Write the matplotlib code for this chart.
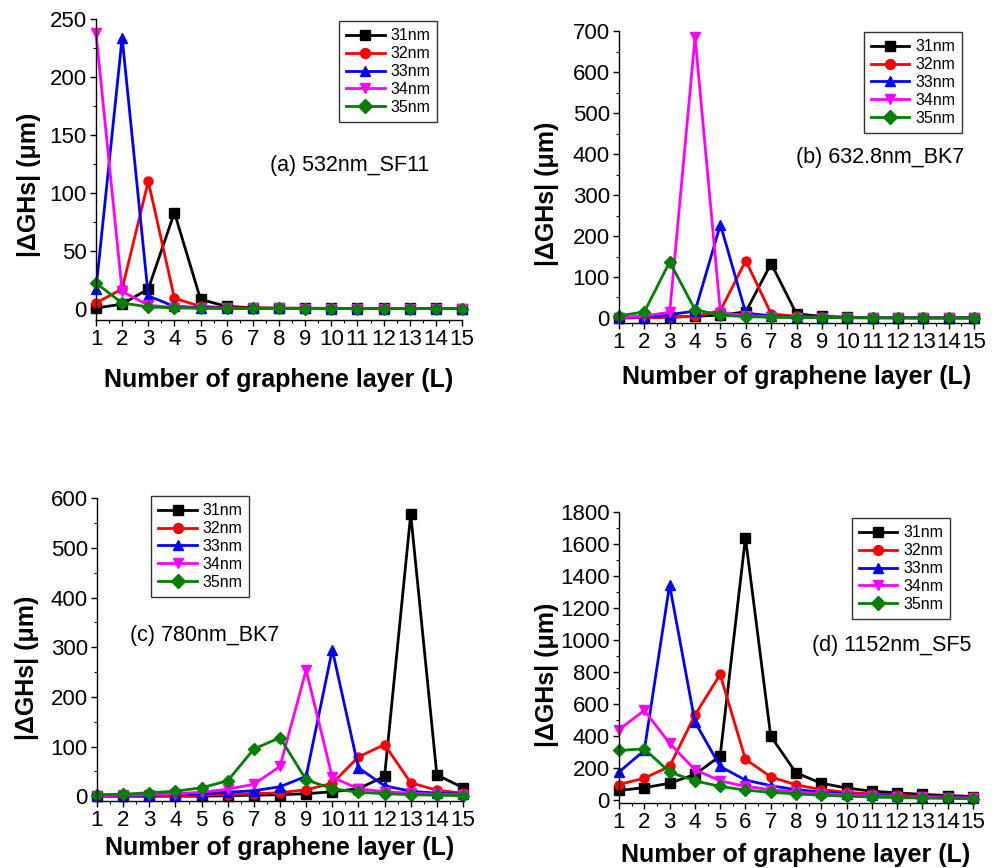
import matplotlib
matplotlib.use("Agg")
import matplotlib.pyplot as plt
from matplotlib.ticker import MultipleLocator, AutoMinorLocator

plt.rcParams['font.family'] = ['Liberation Sans', 'DejaVu Sans']

layers = list(range(1, 15 + 1))
series_labels = ["31nm", "32nm", "33nm", "34nm", "35nm"]
series_colors = ["#000000", "#ff0000", "#0000ff", "#ff00ff", "#008000"]
series_markers = ["s", "o", "^", "v", "D"]

# (a) 532nm, SF11 prism
a_31 = [0.5, 4, 17, 83, 8, 2, 0.8, 0.5, 0.4, 0.3, 0.3, 0.2, 0.2, 0.2, 0.1]
a_32 = [5, 17, 110, 9, 2, 1, 0.5, 0.3, 0.3, 0.2, 0.2, 0.2, 0.1, 0.1, 0.1]
a_33 = [17, 234, 11, 2, 1, 0.5, 0.3, 0.2, 0.2, 0.1, 0.1, 0.1, 0.1, 0.1, 0.1]
a_34 = [238, 15, 3, 1, 0.5, 0.3, 0.2, 0.2, 0.1, 0.1, 0.1, 0.1, 0.1, 0.1, 0.1]
a_35 = [22, 5, 1.5, 0.8, 0.5, 0.3, 0.2, 0.2, 0.1, 0.1, 0.1, 0.1, 0.1, 0.1, 0.1]

# (b) 632.8nm, BK7 prism
b_31 = [0, 1, 2, 4, 7, 15, 133, 10, 4, 2, 1, 1, 0.5, 0.5, 0.5]
b_32 = [0, 1, 2, 4, 18, 140, 10, 4, 2, 1, 1, 0.5, 0.5, 0.5, 0.3]
b_33 = [1, 3, 8, 17, 228, 12, 5, 2, 1, 1, 0.5, 0.5, 0.3, 0.3, 0.3]
b_34 = [0, 5, 14, 686, 13, 6, 3, 1, 1, 0.5, 0.5, 0.3, 0.3, 0.3, 0.2]
b_35 = [5, 15, 137, 20, 7, 3, 2, 1, 1, 0.5, 0.5, 0.3, 0.3, 0.2, 0.2]

# (c) 780nm, BK7 prism
c_31 = [0, 0, 0, 0, 0, 1, 2, 3, 5, 9, 15, 40, 568, 43, 17]
c_32 = [0, 0, 1, 1, 2, 3, 5, 7, 13, 26, 79, 104, 27, 12, 6]
c_33 = [1, 1, 2, 3, 5, 8, 11, 19, 40, 295, 57, 21, 10, 6, 4]
c_34 = [1, 2, 3, 5, 8, 14, 24, 60, 254, 38, 15, 9, 6, 4, 3]
c_35 = [3, 4, 7, 10, 17, 31, 95, 118, 33, 15, 8, 5, 3, 2, 1]

# (d) 1152nm, SF5 prism
d_31 = [60, 77, 105, 160, 275, 1640, 400, 170, 105, 75, 55, 45, 35, 28, 22]
d_32 = [97, 137, 210, 530, 785, 255, 145, 95, 65, 48, 38, 30, 24, 20, 16]
d_33 = [175, 310, 1345, 490, 210, 125, 90, 65, 50, 38, 30, 24, 19, 16, 13]
d_34 = [440, 560, 355, 190, 120, 85, 65, 50, 40, 32, 26, 21, 17, 14, 12]
d_35 = [310, 320, 175, 120, 85, 62, 48, 38, 30, 24, 19, 15, 12, 10, 8]

panels = [
    dict(rect=[0.096, 0.631, 0.366, 0.347], data=[a_31, a_32, a_33, a_34, a_35],
         ylim=(-10, 250), ystep=50, title="(a) 532nm_SF11", tpos=(0.475, 0.515),
         legpos=(0.664, 0.993), xlab=-0.199, ylab=(-0.183, 0.449)),
    dict(rect=[0.619, 0.628, 0.355, 0.336], data=[b_31, b_32, b_33, b_34, b_35],
         ylim=(-12, 700), ystep=100, title="(b) 632.8nm_BK7", tpos=(0.50, 0.568),
         legpos=(0.69, 0.997), xlab=-0.185, ylab=(-0.203, 0.442)),
    dict(rect=[0.097, 0.077, 0.366, 0.349], data=[c_31, c_32, c_33, c_34, c_35],
         ylim=(-10, 600), ystep=100, title="(c) 780nm_BK7", tpos=(0.09, 0.548),
         legpos=(0.148, 1.007), xlab=-0.155, ylab=(-0.191, 0.439)),
    dict(rect=[0.619, 0.075, 0.354, 0.335], data=[d_31, d_32, d_33, d_34, d_35],
         ylim=(-18, 1800), ystep=200, title="(d) 1152nm_SF5", tpos=(0.545, 0.543),
         legpos=(0.658, 0.979), xlab=-0.179, ylab=(-0.203, 0.44)),
]

fig = plt.figure(figsize=(10, 8.68), dpi=100)

for p in panels:
    ax = fig.add_axes(p["rect"])
    for vals, lab, col, mk in zip(p["data"], series_labels, series_colors, series_markers):
        ax.plot(layers, vals, color=col, marker=mk, markersize=6.5, linewidth=2.0,
                label=lab, clip_on=False)
    ax.set_xlim(1, 15)
    ax.set_ylim(*p["ylim"])
    ax.xaxis.set_major_locator(MultipleLocator(1))
    ax.xaxis.set_minor_locator(AutoMinorLocator(2))
    ax.yaxis.set_major_locator(MultipleLocator(p["ystep"]))
    ax.yaxis.set_minor_locator(AutoMinorLocator(2))
    for side in ("top", "right"):
        ax.spines[side].set_visible(False)
    for side in ("left", "bottom"):
        ax.spines[side].set_linewidth(1.0)
    ax.tick_params(which="major", direction="out", length=4.5, width=1.0,
                   labelsize=16, pad=2)
    ax.tick_params(which="minor", direction="out", length=2.5, width=0.8)
    ax.set_xlabel("Number of graphene layer (L)", fontsize=18, fontweight="bold")
    ax.xaxis.set_label_coords(0.5, p["xlab"])
    ax.xaxis.label.set_va("center")
    ax.set_ylabel("|ΔGHs| (μm)", fontsize=18, fontweight="bold")
    ax.yaxis.set_label_coords(*p["ylab"])
    ax.yaxis.label.set_va("center")
    ax.text(p["tpos"][0], p["tpos"][1], p["title"], transform=ax.transAxes,
            fontsize=15.5, ha="left", va="center")
    leg = ax.legend(loc="upper left", bbox_to_anchor=p["legpos"], fontsize=11.5,
                    frameon=True, fancybox=False, framealpha=1, edgecolor="#333333",
                    handlelength=2.4, handletextpad=0.35, labelspacing=0.18,
                    borderpad=0.45, borderaxespad=0, markerscale=1.1)
    leg.get_frame().set_linewidth(1.0)

fig.savefig("out.png", dpi=100)
